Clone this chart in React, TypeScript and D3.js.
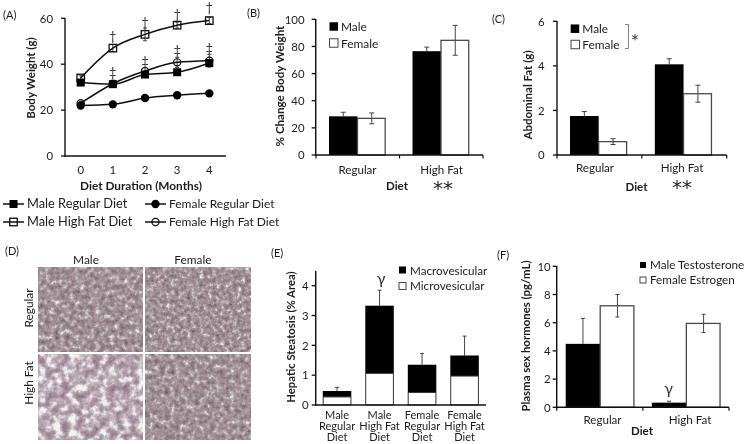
import React from "react";
import * as d3 from "d3";

const months = [0, 1, 2, 3, 4];
const maleRegularWeight = [32, 31.3, 35.5, 36.5, 40.5];
const maleRegularErr = [0.8, 0.8, 1, 1, 1.2];
const femaleRegularWeight = [22, 22.5, 25.3, 26.5, 27.3];
const femaleRegularErr = [0.6, 0.6, 0.7, 0.7, 0.7];
const maleHighWeight = [34, 47, 53, 57, 59];
const maleHighErr = [1, 1.5, 2.8, 1.3, 1.3];
const femaleHighWeight = [23, 31.5, 37, 40.8, 41.5];
const femaleHighErr = [0.8, 1, 1.5, 2.2, 2.8];
const daggerMonths = [1, 2, 3, 4];
const daggerWeights = [52.5, 58.5, 62, 65];
const ddaggerMonths = [1, 2, 3, 4];
const ddaggerWeights = [36.6, 41.6, 46, 47];

const dietGroups = ["Regular", "High Fat"];
const changeMale = [28.5, 76.5];
const changeMaleErr = [3, 3];
const changeFemale = [27, 84.5];
const changeFemaleErr = [4, 11];
const fatMale = [1.75, 4.07];
const fatMaleErr = [0.2, 0.25];
const fatFemale = [0.6, 2.75];
const fatFemaleErr = [0.13, 0.38];
const steatosisGroups = [
  ["Male", "Regular", "Diet"],
  ["Male", "High Fat", "Diet"],
  ["Female", "Regular", "Diet"],
  ["Female", "High Fat", "Diet"],
];
const microvesicular = [0.27, 1.06, 0.42, 0.97];
const macrovesicular = [0.2, 2.27, 0.93, 0.69];
const steatosisErr = [0.12, 0.52, 0.38, 0.65];
const testosterone = [4.5, 0.33];
const testosteroneErr = [1.8, 0.1];
const estrogen = [7.2, 5.95];
const estrogenErr = [0.8, 0.65];

const FONT = "Lato, 'Open Sans', sans-serif";
const INK = "#1c1c1c";
const GREY = "#444";

function T({ x, y, size = 11.6, bold = false, anchor = "start", rotate, children, fill = INK, spacing, family }: any) {
  return (
    <text
      x={x}
      y={y}
      fontFamily={family || FONT}
      fontSize={size}
      fontWeight={bold ? 700 : 400}
      textAnchor={anchor}
      fill={fill}
      letterSpacing={spacing}
      transform={rotate ? `rotate(${rotate} ${x} ${y})` : undefined}
    >
      {children}
    </text>
  );
}

function YAxis({ x, y, ticks, top, labelX, size = 11.4 }: any) {
  return (
    <g>
      <line x1={x} x2={x} y1={top} y2={y.range()[0] + 1} stroke="#111" strokeWidth={1.4} />
      {ticks.map((t: number) => (
        <g key={t}>
          <line x1={x - 4} x2={x} y1={y(t)} y2={y(t)} stroke="#111" strokeWidth={1.3} />
          <T x={labelX} y={y(t) + 4.2} size={size} anchor="end">
            {t}
          </T>
        </g>
      ))}
    </g>
  );
}

function Err({ x, y, low, high, cap = 2.5, color = GREY, width = 1 }: any) {
  return (
    <g stroke={color} strokeWidth={width} fill="none">
      <line x1={x} x2={x} y1={y(low)} y2={y(high)} />
      <line x1={x - cap} x2={x + cap} y1={y(high)} y2={y(high)} />
      <line x1={x - cap} x2={x + cap} y1={y(low)} y2={y(low)} />
    </g>
  );
}

function GroupedBars({ x0, x1, y, groups, a, aErr, b, bErr, barW, inset, tickBottom = true, cap = 2.5 }: any) {
  const band = d3.scaleBand<number>().domain(d3.range(groups.length)).range([x0, x1]);
  const base = y(0);
  return (
    <g>
      {groups.map((_: string, i: number) => {
        const left = (band(i) as number) + inset;
        return (
          <g key={i}>
            <rect x={left} y={y(a[i])} width={barW} height={base - y(a[i])} fill="#000" />
            <rect
              x={left + barW}
              y={y(b[i])}
              width={barW - 0.8}
              height={base - y(b[i])}
              fill="#fff"
              stroke="#4a4a4a"
              strokeWidth={1.3}
            />
            <line x1={left + barW / 2} x2={left + barW / 2} y1={y(a[i])} y2={y(a[i] + aErr[i])} stroke={GREY} />
            <line x1={left + barW / 2 - cap} x2={left + barW / 2 + cap} y1={y(a[i] + aErr[i])} y2={y(a[i] + aErr[i])} stroke={GREY} />
            <Err x={left + barW * 1.5} y={y} low={b[i] - bErr[i]} high={b[i] + bErr[i]} cap={cap} />
          </g>
        );
      })}
      <line x1={x0} x2={x1} y1={base} y2={base} stroke="#111" strokeWidth={1.4} />
      {tickBottom &&
        [0, 1, 2].map((i) => (
          <line key={i} x1={x0 + (i * (x1 - x0)) / 2} x2={x0 + (i * (x1 - x0)) / 2} y1={base} y2={base + 3.5} stroke="#111" strokeWidth={1.2} />
        ))}
    </g>
  );
}

function PanelA() {
  const x = d3.scalePoint<number>().domain(months).range([80.7, 209.3]);
  const y = d3.scaleLinear().domain([0, 60]).range([156, 18.3]);
  const line = d3
    .line<number>()
    .x((_, i) => x(months[i]) as number)
    .y((d) => y(d))
    .curve(d3.curveMonotoneX);
  const series = [
    { v: maleHighWeight, e: maleHighErr, kind: "sq-open" },
    { v: femaleHighWeight, e: femaleHighErr, kind: "ci-open" },
    { v: maleRegularWeight, e: maleRegularErr, kind: "sq" },
    { v: femaleRegularWeight, e: femaleRegularErr, kind: "ci" },
  ];
  return (
    <g>
      <YAxis x={65} y={y} ticks={[0, 20, 40, 60]} top={18} labelX={53} />
      <line x1={65} x2={226} y1={156} y2={156} stroke="#111" strokeWidth={1.4} />
      {months.map((m) => (
        <T key={m} x={x(m)} y={174} anchor="middle" size={11.4}>
          {m}
        </T>
      ))}
      {series.map((s, si) => (
        <g key={si}>
          {s.v.map((d, i) => (
            <Err key={i} x={x(months[i])} y={y} low={d - s.e[i]} high={d + s.e[i]} cap={2} />
          ))}
          <path d={line(s.v) as string} fill="none" stroke="#111" strokeWidth={1.5} />
          {s.v.map((d, i) => (
            <Marker key={i} kind={s.kind} cx={x(months[i]) as number} cy={y(d)} />
          ))}
        </g>
      ))}
      {daggerMonths.map((m, i) => (
        <T key={m} x={x(m)} y={y(daggerWeights[i]) + 5} anchor="middle" size={13} fill="#333">
          †
        </T>
      ))}
      {ddaggerMonths.map((m, i) => (
        <T key={m} x={x(m)} y={y(ddaggerWeights[i]) + 5} anchor="middle" size={13} fill="#333">
          ‡
        </T>
      ))}
      <T x={35} y={78} anchor="middle" bold size={11.5} rotate={-90}>
        Body Weight (g)
      </T>
      <T x={141} y={190} anchor="middle" bold size={11.8}>
        Diet Duration  (Months)
      </T>
      <Legend x={3} y={204} kind="sq" size={12.8} label="Male Regular Diet" />
      <Legend x={3} y={222} kind="sq-open" size={12.8} label="Male High Fat Diet" />
      <Legend x={145} y={204} kind="ci" size={12} label="Female Regular Diet" />
      <Legend x={145} y={222} kind="ci-open" size={12} label="Female High Fat Diet" />
    </g>
  );
}

function Marker({ kind, cx, cy }: any) {
  const open = kind.includes("open");
  const fill = open ? "none" : "#000";
  if (kind.startsWith("sq")) {
    const s = open ? 7.5 : 8;
    return <rect x={cx - s / 2} y={cy - s / 2} width={s} height={s} fill={fill} stroke="#111" strokeWidth={open ? 1.3 : 0} />;
  }
  return <circle cx={cx} cy={cy} r={open ? 3.6 : 4.2} fill={fill} stroke="#111" strokeWidth={open ? 1.2 : 0} />;
}

function Legend({ x, y, kind, label, size }: any) {
  return (
    <g>
      <line x1={x} x2={x + 21} y1={y} y2={y} stroke="#111" strokeWidth={1.5} />
      <Marker kind={kind} cx={x + 10.5} cy={y} />
      <T x={x + 24} y={y + 4.2} size={size}>
        {label}
      </T>
    </g>
  );
}

function Swatch({ x, y, s = 8.5, open }: any) {
  return <rect x={x} y={y - s / 2} width={s} height={s} fill={open ? "#fff" : "#000"} stroke={open ? "#444" : "none"} strokeWidth={1} />;
}

function PanelB() {
  const y = d3.scaleLinear().domain([0, 100]).range([155, 19.3]);
  return (
    <g>
      <GroupedBars x0={316} x1={483} y={y} groups={dietGroups} a={changeMale} aErr={changeMaleErr} b={changeFemale} bErr={changeFemaleErr} barW={28.5} inset={13} />
      <YAxis x={315.7} y={y} ticks={[0, 20, 40, 60, 80, 100]} top={19} labelX={304.5} />
      <T x={357.5} y={174} anchor="middle">Regular</T>
      <T x={441.5} y={174} anchor="middle">High Fat</T>
      <T x={397} y={190} anchor="middle" bold size={11.5}>Diet</T>
      <T x={443} y={195} anchor="middle" size={20} family="'DejaVu Sans'">**</T>
      <T x={284} y={86} anchor="middle" bold size={11.6} rotate={-90}>% Change Body Weight</T>
      <Swatch x={329.5} y={26.5} />
      <T x={341} y={30.5} size={11.9}>Male</T>
      <Swatch x={329.5} y={43} open />
      <T x={341} y={47.5} size={11.9}>Female</T>
    </g>
  );
}

function PanelC() {
  const y = d3.scaleLinear().domain([0, 6]).range([155, 21.3]);
  return (
    <g>
      <GroupedBars x0={557} x1={726.7} y={y} groups={dietGroups} a={fatMale} aErr={fatMaleErr} b={fatFemale} bErr={fatFemaleErr} barW={28.7} inset={13} />
      <YAxis x={557} y={y} ticks={[0, 2, 4, 6]} top={21} labelX={544.5} />
      <T x={595} y={172} anchor="middle">Regular</T>
      <T x={682} y={172} anchor="middle">High Fat</T>
      <T x={636.5} y={191} anchor="middle" bold size={11.5}>Diet</T>
      <T x={682} y={194} anchor="middle" size={20} family="'DejaVu Sans'">**</T>
      <T x={532} y={95} anchor="middle" bold size={11.5} rotate={-90}>Abdominal Fat (g)</T>
      <Swatch x={570.7} y={28.7} />
      <T x={582.3} y={32.5} size={11.9}>Male</T>
      <Swatch x={571} y={44.5} open />
      <T x={582.3} y={48.5} size={11.9}>Female</T>
      <path d="M625 24.5h3.5v24h-3.5" fill="none" stroke="#777" strokeWidth={0.9} />
      <T x={635} y={44} anchor="middle" size={14} family="'DejaVu Sans'">*</T>
    </g>
  );
}

function Micrograph({ x, y, w, h, id }: any) {
  return <rect x={x} y={y} width={w} height={h} fill="#fff" filter={`url(#${id})`} />;
}

function TissueFilter({ id, seed, freq, cut }: any) {
  return (
    <filter id={id} x="0" y="0" width="1" height="1" colorInterpolationFilters="sRGB">
      <feTurbulence type="fractalNoise" baseFrequency={freq} numOctaves={4} seed={seed} result="n" />
      <feColorMatrix in="n" type="matrix" values="0 0 0 1.2 0  0 0 0 1.2 0  0 0 0 1.2 0  0 0 0 0 1" result="g" />
      <feComponentTransfer in="g">
        <feFuncR type="table" tableValues={cut[0]} />
        <feFuncG type="table" tableValues={cut[1]} />
        <feFuncB type="table" tableValues={cut[2]} />
      </feComponentTransfer>
      <feGaussianBlur stdDeviation="0.4" />
    </filter>
  );
}

function PanelD() {
  const dense = ["0.3 0.42 0.54 0.6 0.66 0.74 0.92", "0.3 0.38 0.47 0.53 0.6 0.72 0.92", "0.36 0.42 0.5 0.55 0.62 0.73 0.92"];
  const fatty = ["0.4 0.52 0.62 0.68 0.78 0.93 0.97", "0.32 0.42 0.52 0.6 0.73 0.93 0.97", "0.42 0.5 0.58 0.65 0.76 0.93 0.97"];
  return (
    <g>
      <defs>
        <TissueFilter id="t1" seed={3} freq={0.2} cut={dense} />
        <TissueFilter id="t2" seed={8} freq={0.24} cut={dense} />
        <TissueFilter id="t3" seed={14} freq={0.13} cut={fatty} />
        <TissueFilter id="t4" seed={21} freq={0.2} cut={dense} />
      </defs>
      <Micrograph id="t1" x={38.5} y={267.3} w={104.5} h={84.5} />
      <Micrograph id="t2" x={145.5} y={267.3} w={105} h={84.5} />
      <Micrograph id="t3" x={38.5} y={354.5} w={104.5} h={85.5} />
      <Micrograph id="t4" x={145.5} y={354.5} w={105} h={85.5} />
      <T x={86} y={264} anchor="middle" size={11.9}>Male</T>
      <T x={193} y={264} anchor="middle" size={11.9}>Female</T>
      <T x={33} y={308} anchor="middle" size={11.9} rotate={-90}>Regular</T>
      <T x={33} y={383} anchor="middle" size={11.9} rotate={-90}>High Fat</T>
    </g>
  );
}

function PanelE() {
  const y = d3.scaleLinear().domain([0, 4]).range([405, 285.7]);
  const x = d3.scaleBand<number>().domain(d3.range(4)).range([316, 486]);
  const w = 28.5;
  return (
    <g>
      {steatosisGroups.map((g, i) => {
        const cx = (x(i) as number) + x.bandwidth() / 2 - 0.2;
        const total = microvesicular[i] + macrovesicular[i];
        return (
          <g key={i}>
            <line x1={cx} x2={cx} y1={y(total)} y2={y(total + steatosisErr[i])} stroke={GREY} />
            <line x1={cx - 2} x2={cx + 2} y1={y(total + steatosisErr[i])} y2={y(total + steatosisErr[i])} stroke={GREY} />
            <rect x={cx - w / 2} y={y(total)} width={w} height={y(microvesicular[i]) - y(total)} fill="#000" />
            <rect x={cx - w / 2 + 0.4} y={y(microvesicular[i])} width={w - 0.8} height={405 - y(microvesicular[i])} fill="#fff" stroke="#333" strokeWidth={1} />
            {g.map((s, j) => (
              <T key={j} x={cx} y={419 + j * 11} anchor="middle" size={11}>
                {s}
              </T>
            ))}
          </g>
        );
      })}
      <line x1={316} x2={486} y1={405} y2={405} stroke="#111" strokeWidth={1.4} />
      <YAxis x={315.7} y={y} ticks={[0, 1, 2, 3, 4]} top={271} labelX={308.7} />
      <T x={295} y={337} anchor="middle" bold size={11.3} rotate={-90}>Hepatic Steatosis (% Area)</T>
      <T x={381} y={284} anchor="middle" size={16} fill="#333">γ</T>
      <Swatch x={399} y={270} s={7} />
      <T x={410} y={275} size={11.7}>Macrovesicular</T>
      <Swatch x={399} y={286} s={7} open />
      <T x={410} y={290} size={11.7}>Microvesicular</T>
    </g>
  );
}

function PanelF() {
  const y = d3.scaleLinear().domain([0, 10]).range([407.3, 266.3]);
  return (
    <g>
      <GroupedBars x0={556.7} x1={729} y={y} groups={dietGroups} a={testosterone} aErr={testosteroneErr} b={estrogen} bErr={estrogenErr} barW={34.5} inset={9} tickBottom={true} cap={2} />
      <YAxis x={556.7} y={y} ticks={[0, 2, 4, 6, 8, 10]} top={266} labelX={550.7} />
      <T x={602.5} y={423.5} anchor="middle">Regular</T>
      <T x={690} y={423.5} anchor="middle">High Fat</T>
      <T x={642} y={435} anchor="middle" bold size={11.5}>Diet</T>
      <T x={530} y={336} anchor="middle" bold size={11.4} rotate={-90}>Plasma sex hormones (pg/mL)</T>
      <T x={668.5} y={394} anchor="middle" size={16} fill="#333">γ</T>
      <Swatch x={640} y={265} s={6} />
      <T x={650} y={269} size={11.7}>Male Testosterone</T>
      <Swatch x={640} y={280} s={6} open />
      <T x={650} y={283.5} size={11.7}>Female Estrogen</T>
    </g>
  );
}

export default function App() {
  return (
    <svg width={748} height={444} viewBox="0 0 748 444" style={{ position: "absolute", left: 0, top: 0, background: "#fff" }}>
      <defs>
        <filter id="soft" x="0" y="0" width="748" height="444" filterUnits="userSpaceOnUse">
          <feGaussianBlur stdDeviation="0.35" />
        </filter>
      </defs>
      <g filter="url(#soft)">
        <T x={3} y={19} size={11}>(A)</T>
        <T x={247} y={17} size={11}>(B)</T>
        <T x={492} y={23} size={11}>(C)</T>
        <T x={5} y={255} size={11}>(D)</T>
        <T x={271} y={257} size={11}>(E)</T>
        <T x={497} y={259} size={11}>(F)</T>
        <PanelA />
        <PanelB />
        <PanelC />
        <PanelD />
        <PanelE />
        <PanelF />
      </g>
    </svg>
  );
}
